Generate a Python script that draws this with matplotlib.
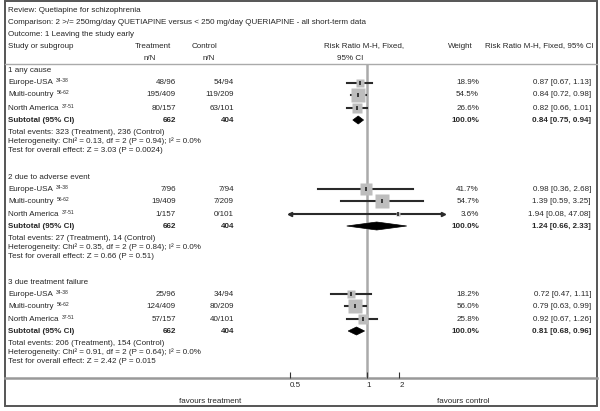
import numpy as np
import matplotlib.pyplot as plt
from matplotlib.patches import Rectangle, Polygon
from matplotlib.ticker import NullLocator

plt.rcParams['font.family'] = ['Liberation Sans Narrow', 'Liberation Sans', 'DejaVu Sans']

# ---- data ----
title_lines = ["Review: Quetiapine for schizophrenia",
               "Comparison: 2 >/= 250mg/day QUETIAPINE versus < 250 mg/day QUERIAPINE - all short-term data",
               "Outcome: 1 Leaving the study early"]
groups = ["1 any cause", "2 due to adverse event", "3 due treatment failure"]
studies = ["Europe-USA", "Multi-country", "North America"]
refs = ["34-38", "56-62", "37-51"]
treat = [["48/96", "195/409", "80/157"],
         ["7/96", "19/409", "1/157"],
         ["25/96", "124/409", "57/157"]]
ctrl = [["54/94", "119/209", "63/101"],
        ["7/94", "7/209", "0/101"],
        ["34/94", "80/209", "40/101"]]
rr = [[0.87, 0.84, 0.82], [0.98, 1.39, 1.94], [0.72, 0.79, 0.92]]
rr_lo = [[0.67, 0.72, 0.66], [0.36, 0.59, 0.08], [0.47, 0.63, 0.67]]
rr_hi = [[1.13, 0.98, 1.01], [2.68, 3.25, 47.08], [1.11, 0.99, 1.26]]
weight = [[18.9, 54.5, 26.6], [41.7, 54.7, 3.6], [18.2, 56.0, 25.8]]
sub_rr = [0.84, 1.24, 0.81]
sub_lo = [0.75, 0.66, 0.68]
sub_hi = [0.94, 2.33, 0.96]
total_t = [662, 662, 662]
total_c = [404, 404, 404]
events = ["Total events: 323 (Treatment), 236 (Control)",
          "Total events: 27 (Treatment), 14 (Control)",
          "Total events: 206 (Treatment), 154 (Control)"]
hetero = ["Heterogeneity: Chi\u00b2 = 0.13, df = 2 (P = 0.94); I\u00b2 = 0.0%",
          "Heterogeneity: Chi\u00b2 = 0.35, df = 2 (P = 0.84); I\u00b2 = 0.0%",
          "Heterogeneity: Chi\u00b2 = 0.91, df = 2 (P = 0.64); I\u00b2 = 0.0%"]
overall = ["Test for overall effect: Z = 3.03 (P = 0.0024)",
           "Test for overall effect: Z = 0.66 (P = 0.51)",
           "Test for overall effect: Z = 2.42 (P = 0.015"]
tick_vals = [0.2, 1, 2]
tick_labels = ["0.5", "1", "2"]

# ---- layout (pixel units, y down) ----
W, H = 600, 411
fs = 5.8
tc = '#262626'
group_top = [71, 177, 282]
row_off = [12, 24, 37]
sub_off, ev_off, het_off, test_off = 49, 61, 70, 79
head_y, axis_y = 64, 378
fx0, fx1 = 290, 443

fig = plt.figure(figsize=(W / 100, H / 100), dpi=100)
bg = fig.add_axes([0, 0, 1, 1])
bg.set_xlim(0, W)
bg.set_ylim(H, 0)
bg.axis('off')

ax = fig.add_axes([fx0 / W, (H - axis_y) / H, (fx1 - fx0) / W, (axis_y - head_y) / H])
ax.set_xscale('log')
ax.set_xlim(0.2, 5)
ax.set_ylim(axis_y, head_y)
ax.patch.set_visible(False)
for s in ax.spines.values():
    s.set_visible(False)
ax.set_yticks([])
ax.xaxis.set_minor_locator(NullLocator())
ax.set_xticks(tick_vals, tick_labels)
ax.tick_params(axis='x', direction='in', length=4, width=0.8, color='#333333',
               labelsize=fs, labelcolor=tc, pad=3)
for lbl in ax.get_xticklabels():
    lbl.set_ha('left')
ax.axvline(1, color='#aaaaaa', lw=1.8, zorder=1)

# frame and rules
bg.add_patch(Rectangle((5, 1), 592, 405, fill=False, ec='#555555', lw=1.4))
bg.plot([5, 597], [head_y, head_y], color='#aaaaaa', lw=1)
bg.plot([5, 597], [axis_y, axis_y], color='#999999', lw=1.8)

# header text
for i, t in enumerate(title_lines):
    bg.text(8, 10 + 12 * i, t, fontsize=fs, color=tc, va='center')
bg.text(8, 46, "Study or subgroup", fontsize=fs, color=tc, va='center')
bg.text(153, 46, "Treatment", fontsize=fs, color=tc, va='center', ha='center')
bg.text(150, 58, "n/N", fontsize=fs, color=tc, va='center', ha='center')
bg.text(204, 46, "Control", fontsize=fs, color=tc, va='center', ha='center')
bg.text(209, 58, "n/N", fontsize=fs, color=tc, va='center', ha='center')
bg.text(364, 46, "Risk Ratio M-H, Fixed,", fontsize=fs, color=tc, va='center', ha='center')
bg.text(350, 58, "95% CI", fontsize=fs, color=tc, va='center', ha='center')
bg.text(460, 46, "Weight", fontsize=fs, color=tc, va='center', ha='center')
bg.text(539, 46, "Risk Ratio M-H, Fixed, 95% CI", fontsize=fs, color=tc, va='center', ha='center')

fig.canvas.draw()
renderer = fig.canvas.get_renderer()

for g in range(len(groups)):
    y0 = group_top[g]
    bg.text(8, y0, groups[g], fontsize=fs, color=tc, va='center')
    for k in range(len(studies)):
        y = y0 + row_off[k]
        name = bg.text(8, y, studies[k], fontsize=fs, color=tc, va='center')
        x_end = name.get_window_extent(renderer).x1
        bg.text(x_end + 3, y - 2, refs[k], fontsize=3.6, color=tc, va='center')
        bg.text(176, y, treat[g][k], fontsize=fs, color=tc, va='center', ha='right')
        bg.text(234, y, ctrl[g][k], fontsize=fs, color=tc, va='center', ha='right')
        bg.text(479, y, f"{weight[g][k]:.1f}%", fontsize=fs, color=tc, va='center', ha='right')
        bg.text(591, y, f"{rr[g][k]:.2f} [{rr_lo[g][k]:.2f}, {rr_hi[g][k]:.2f}]",
                fontsize=fs, color=tc, va='center', ha='right')
        # forest marks
        lo = max(rr_lo[g][k], 0.2)
        hi = min(rr_hi[g][k], 5)
        ax.plot([lo, hi], [y, y], color='#2a2a2a', lw=1.5, zorder=2, clip_on=False)
        if rr_lo[g][k] < 0.2:
            ax.plot(lo, y, marker='<', ms=3, color='#2a2a2a', clip_on=False, zorder=3)
        if rr_hi[g][k] > 5:
            ax.plot(hi, y, marker='>', ms=3, color='#2a2a2a', clip_on=False, zorder=3)
        side = 19 * np.sqrt(weight[g][k] / 100) * 0.72
        ax.plot(rr[g][k], y, marker='s', ms=side, color='#bdbdbd', mec='none', zorder=3)
        ax.plot(rr[g][k], y, marker='|', ms=3.5, mew=1.2, color='#222222', zorder=4)
    ys = y0 + sub_off
    bg.text(8, ys, "Subtotal (95% CI)", fontsize=fs, color=tc, va='center', weight='bold')
    bg.text(176, ys, str(total_t[g]), fontsize=fs, color=tc, va='center', ha='right', weight='bold')
    bg.text(234, ys, str(total_c[g]), fontsize=fs, color=tc, va='center', ha='right', weight='bold')
    bg.text(479, ys, "100.0%", fontsize=fs, color=tc, va='center', ha='right', weight='bold')
    bg.text(591, ys, f"{sub_rr[g]:.2f} [{sub_lo[g]:.2f}, {sub_hi[g]:.2f}]",
            fontsize=fs, color=tc, va='center', ha='right', weight='bold')
    ax.add_patch(Polygon([[sub_lo[g], ys], [sub_rr[g], ys - 4],
                          [sub_hi[g], ys], [sub_rr[g], ys + 4]],
                         closed=True, fc='black', ec='black', lw=0.5, zorder=4))
    bg.text(8, y0 + ev_off, events[g], fontsize=fs, color=tc, va='center')
    bg.text(8, y0 + het_off, hetero[g], fontsize=fs, color=tc, va='center')
    bg.text(8, y0 + test_off, overall[g], fontsize=fs, color=tc, va='center')

bg.text(210, 401, "favours treatment", fontsize=fs, color=tc, va='center', ha='center')
bg.text(463, 401, "favours control", fontsize=fs, color=tc, va='center', ha='center')

fig.savefig('out.png', dpi=100)
